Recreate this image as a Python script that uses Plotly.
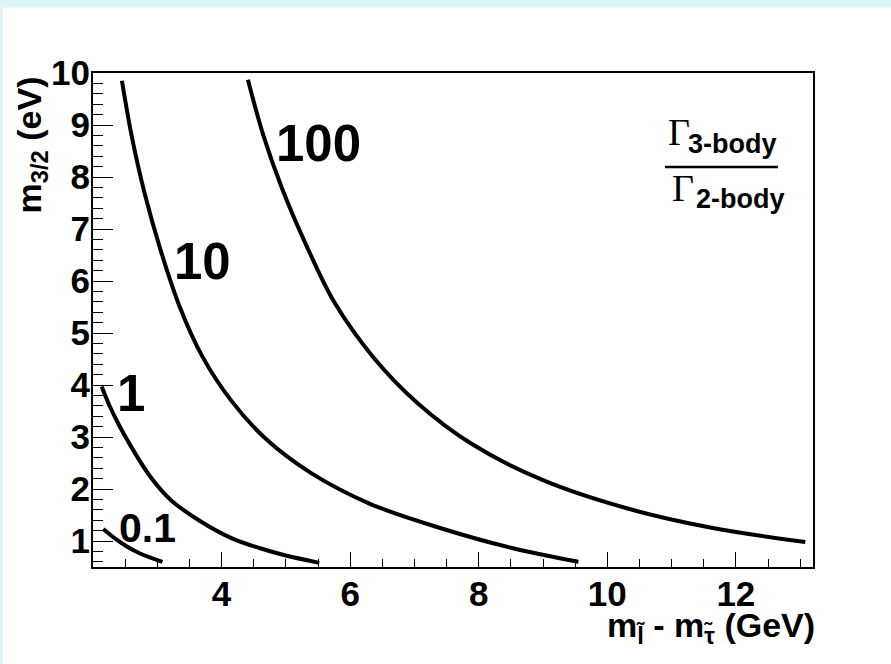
import plotly.graph_objects as go

# Contours of the 3-body / 2-body decay width ratio
# x: slepton - stau mass splitting (GeV), y: gravitino mass (eV)
ratio_labels = ["0.1", "1", "10", "100"]

x_r01 = [2.16, 2.33, 2.52, 2.75, 3.08]
y_r01 = [1.23, 1.06, 0.90, 0.75, 0.60]

x_r1 = [2.135, 2.25, 2.40, 2.60, 2.89, 3.20, 3.67, 4.18, 4.60, 5.00, 5.52]
y_r1 = [3.97, 3.62, 3.24, 2.80, 2.24, 1.80, 1.38, 1.04, 0.86, 0.72, 0.58]

x_r10 = [2.45, 2.60, 2.80, 3.05, 3.35, 3.70, 4.15, 4.70, 5.40, 6.30, 7.40, 8.50, 9.55]
y_r10 = [9.85, 8.80, 7.70, 6.60, 5.50, 4.55, 3.70, 2.95, 2.30, 1.72, 1.25, 0.87, 0.60]

x_r100 = [4.41, 4.65, 4.95, 5.35, 5.75, 6.35, 7.05, 7.90, 9.00, 10.30, 11.60, 13.08]
y_r100 = [9.87, 8.80, 7.75, 6.60, 5.60, 4.55, 3.65, 2.86, 2.17, 1.63, 1.26, 0.98]

# label anchor points for each contour (data coordinates)
label_x = [2.85, 2.59, 3.70, 5.50]
label_y = [1.25, 3.83, 6.38, 8.65]
label_size = [41, 51, 51, 51]

x_ticks = [4, 6, 8, 10, 12]
y_ticks = [1, 2, 3, 4, 5, 6, 7, 8, 9, 10]
x_range = [2.0, 13.2]
y_range = [0.5, 10.0]

W, H = 891, 664
L, R, T, B = 93, 813, 73, 567

def px(xp):
    return (xp - L) / (R - L)

def py(yp):
    return (B - yp) / (B - T)

SANS = "Liberation Sans, Arial, Helvetica, sans-serif"
SERIF = "Liberation Serif, Times New Roman, serif"

fig = go.Figure()
for xs, ys in [(x_r01, y_r01), (x_r1, y_r1), (x_r10, y_r10), (x_r100, y_r100)]:
    fig.add_trace(go.Scatter(
        x=xs, y=ys, mode="lines",
        line=dict(color="black", width=4, shape="spline", smoothing=1.0),
        showlegend=False, hoverinfo="skip",
    ))

annotations = []
for txt, lx, ly, fs in zip(ratio_labels, label_x, label_y, label_size):
    annotations.append(dict(
        x=lx, y=ly, xref="x", yref="y", text=txt, showarrow=False,
        xanchor="center", yanchor="middle",
        font=dict(family=SANS, size=fs, color="black", weight="bold"),
    ))

# ratio legend: Gamma_3-body over Gamma_2-body
annotations += [
    dict(x=px(679), y=py(132), xref="paper", yref="paper", text="Γ",
         showarrow=False, xanchor="center", yanchor="middle",
         font=dict(family=SERIF, size=38, color="black")),
    dict(x=px(686), y=py(143.5), xref="paper", yref="paper", text="3-body",
         showarrow=False, xanchor="left", yanchor="middle",
         font=dict(family=SANS, size=27, color="black", weight="bold")),
    dict(x=px(683), y=py(188), xref="paper", yref="paper", text="Γ",
         showarrow=False, xanchor="center", yanchor="middle",
         font=dict(family=SERIF, size=38, color="black")),
    dict(x=px(694), y=py(198.5), xref="paper", yref="paper", text="2-body",
         showarrow=False, xanchor="left", yanchor="middle",
         font=dict(family=SANS, size=27, color="black", weight="bold")),
]

# axis titles
annotations += [
    dict(x=px(817), y=py(627), xref="paper", yref="paper",
         text="m<sub>l\u0303</sub> - m<sub>\u03c4\u0303</sub> (GeV)",
         showarrow=False, xanchor="right", yanchor="middle",
         font=dict(family=SANS, size=34, color="black", weight="bold")),
    dict(x=px(31), y=py(75), xref="paper", yref="paper",
         text="m<sub>3/2</sub> (eV)", textangle=-90,
         showarrow=False, xanchor="center", yanchor="top",
         font=dict(family=SANS, size=34, color="black", weight="bold")),
]

shapes = [
    # white pad over the tinted canvas
    dict(type="rect", xref="paper", yref="paper", layer="below",
         x0=px(3), x1=px(W + 5), y0=py(H + 5), y1=py(7.5),
         fillcolor="white", line=dict(width=0)),
    # fraction bar
    dict(type="line", xref="paper", yref="paper",
         x0=px(665), x1=px(778), y0=py(167), y1=py(167),
         line=dict(color="black", width=2.5)),
]

TICKFONT = dict(family=SANS, size=35, color="black", weight="bold")

fig.update_layout(
    width=W, height=H,
    margin=dict(l=L, r=W - R, t=T, b=H - B, pad=0),
    paper_bgcolor="#dbf4f8", plot_bgcolor="white",
    annotations=annotations, shapes=shapes,
    showlegend=False,
    xaxis=dict(
        range=x_range, tickmode="array", tickvals=x_ticks,
        showgrid=False, zeroline=False, showline=True, mirror=True,
        linecolor="black", linewidth=2,
        ticks="inside", ticklen=15, tickcolor="black", tickwidth=1.2,
        tickfont=TICKFONT, ticklabelstandoff=-5,
        minor=dict(ticks="inside", tickmode="linear", tick0=2, dtick=0.5,
                   ticklen=8, tickcolor="black", tickwidth=1.2),
    ),
    yaxis=dict(
        range=y_range, tickmode="array", tickvals=y_ticks,
        showgrid=False, zeroline=False, showline=True, mirror=True,
        linecolor="black", linewidth=2,
        ticks="inside", ticklen=20, tickcolor="black", tickwidth=1.2,
        tickfont=TICKFONT, ticklabelstandoff=-6,
        minor=dict(ticks="inside", tickmode="linear", tick0=0.6, dtick=0.2,
                   ticklen=10, tickcolor="black", tickwidth=1.2),
    ),
)

fig.write_html("out.html")
